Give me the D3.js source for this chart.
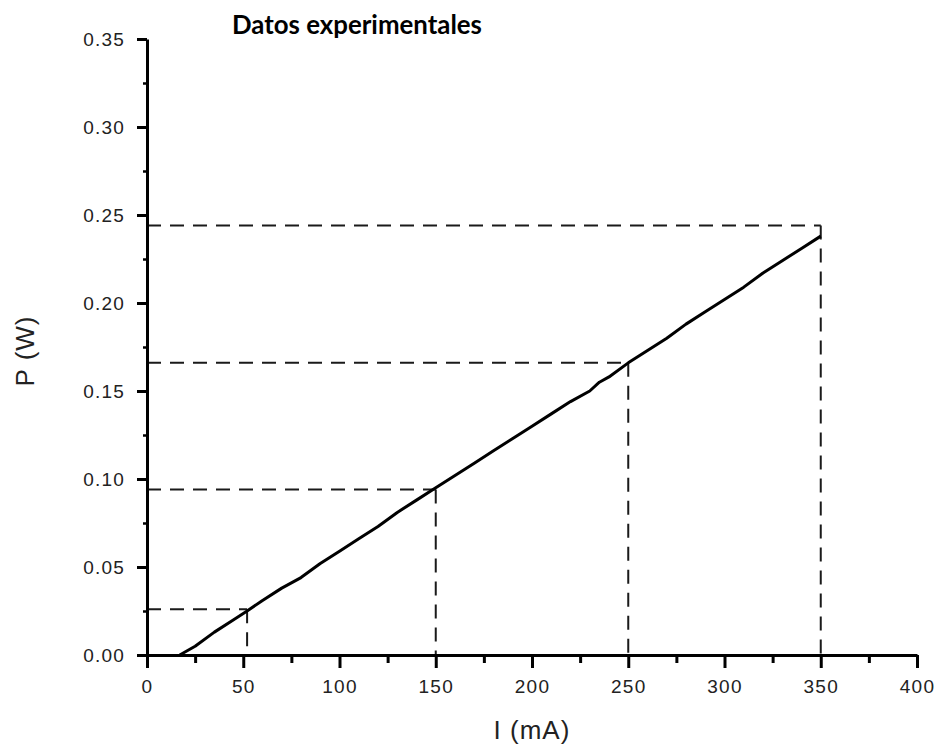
<!DOCTYPE html>
<html>
<head>
<meta charset="utf-8">
<script src="https://cdn.jsdelivr.net/npm/d3@7"></script>
<style>
  body { margin: 0; background: #fff; }
  svg { display: block; }
  .tick text { font-family: "Liberation Sans", Arial, sans-serif; font-size: 19px; letter-spacing: 1.2px; fill: #222; }
  .axis-label { font-family: "Liberation Sans", Arial, sans-serif; font-size: 26px; letter-spacing: 1px; fill: #222; }
  .title { font-family: Lato, "Open Sans", sans-serif; font-weight: bold; font-size: 24px; fill: #000; }
</style>
</head>
<body>
<svg id="chart" width="940" height="747"></svg>
<script>
// measured current (mA) and power (W)
const currentMA = [17, 25, 35, 45, 52, 60, 70, 80, 90, 100, 110, 120, 130, 140, 150,
  160, 170, 180, 190, 200, 210, 220, 230, 235, 240, 250, 260, 270, 280, 290, 300,
  310, 320, 330, 340, 350];
const powerW = [0.000, 0.005, 0.013, 0.020, 0.025, 0.031, 0.038, 0.044, 0.052, 0.059,
  0.066, 0.073, 0.081, 0.088, 0.095, 0.102, 0.109, 0.116, 0.123, 0.130, 0.137, 0.144,
  0.150, 0.155, 0.158, 0.166, 0.173, 0.180, 0.188, 0.195, 0.202, 0.209, 0.217, 0.224,
  0.231, 0.238];

// reference readings shown with dashed guides
const guideI = [52, 150, 250, 350];
const guideP = [0.026, 0.094, 0.166, 0.244];

const xTicks = [0, 50, 100, 150, 200, 250, 300, 350, 400];
const xMinor = [25, 75, 125, 175, 225, 275, 325, 375];
const yTicks = [0, 0.05, 0.10, 0.15, 0.20, 0.25, 0.30, 0.35];
const yMinor = [0.025, 0.075, 0.125, 0.175, 0.225, 0.275, 0.325];

const svg = d3.select("#chart");

const x = d3.scaleLinear().domain([0, 400]).range([147, 917]);
const y = d3.scaleLinear().domain([0, 0.35]).range([655, 39]);

// dashed guide lines
const guides = svg.append("g")
  .attr("stroke", "#1a1a1a")
  .attr("stroke-width", 2)
  .attr("stroke-dasharray", "14,9")
  .attr("fill", "none");

guides.selectAll("line.h")
  .data(guideI)
  .join("line")
  .attr("class", "h")
  .attr("x1", x(0))
  .attr("x2", d => x(d))
  .attr("y1", (d, i) => y(guideP[i]))
  .attr("y2", (d, i) => y(guideP[i]));

guides.selectAll("line.v")
  .data(guideI)
  .join("line")
  .attr("class", "v")
  .attr("x1", d => x(d))
  .attr("x2", d => x(d))
  .attr("y1", (d, i) => y(guideP[i]))
  .attr("y2", y(0));

// data line
const points = currentMA.map((d, i) => [d, powerW[i]]);
svg.append("path")
  .datum(points)
  .attr("fill", "none")
  .attr("stroke", "#000")
  .attr("stroke-width", 3)
  .attr("stroke-linejoin", "round")
  .attr("d", d3.line().x(d => x(d[0])).y(d => y(d[1])));

// minor ticks
svg.append("g")
  .attr("transform", `translate(0,${y(0)})`)
  .call(d3.axisBottom(x).tickValues(xMinor).tickSize(8).tickFormat(""))
  .call(g => g.select(".domain").remove())
  .call(g => g.selectAll("line").attr("stroke", "#000").attr("stroke-width", 3));

svg.append("g")
  .attr("transform", `translate(${x(0)},0)`)
  .call(d3.axisLeft(y).tickValues(yMinor).tickSize(4).tickFormat(""))
  .call(g => g.select(".domain").remove())
  .call(g => g.selectAll("line").attr("stroke", "#000").attr("stroke-width", 2.5));

// major axes
svg.append("g")
  .attr("transform", `translate(0,${y(0)})`)
  .call(d3.axisBottom(x).tickValues(xTicks).tickSize(13).tickSizeOuter(0).tickPadding(12)
    .tickFormat(d3.format("d")))
  .call(g => g.select(".domain").attr("stroke", "#000").attr("stroke-width", 3))
  .call(g => g.selectAll(".tick line").attr("stroke", "#000").attr("stroke-width", 3));

svg.append("g")
  .attr("transform", `translate(${x(0)},0)`)
  .call(d3.axisLeft(y).tickValues(yTicks).tickSize(10).tickSizeOuter(0).tickPadding(12)
    .tickFormat(d3.format(".2f")))
  .call(g => g.select(".domain").attr("stroke", "#000").attr("stroke-width", 3))
  .call(g => g.selectAll(".tick line").attr("stroke", "#000").attr("stroke-width", 3));

// labels
svg.append("text")
  .attr("class", "axis-label")
  .attr("x", 532)
  .attr("y", 739)
  .attr("text-anchor", "middle")
  .text("I (mA)");

svg.append("text")
  .attr("class", "axis-label")
  .attr("transform", "translate(34,351) rotate(-90)")
  .attr("text-anchor", "middle")
  .text("P (W)");

const title = svg.append("text")
  .attr("class", "title")
  .attr("x", 357)
  .attr("y", 34)
  .attr("text-anchor", "middle")
  .text("Datos experimentales");

// fit the title to the width it takes in the original
const tw = title.node().getComputedTextLength();
title.style("font-size", (24 * 250 / tw) + "px");
</script>
</body>
</html>
